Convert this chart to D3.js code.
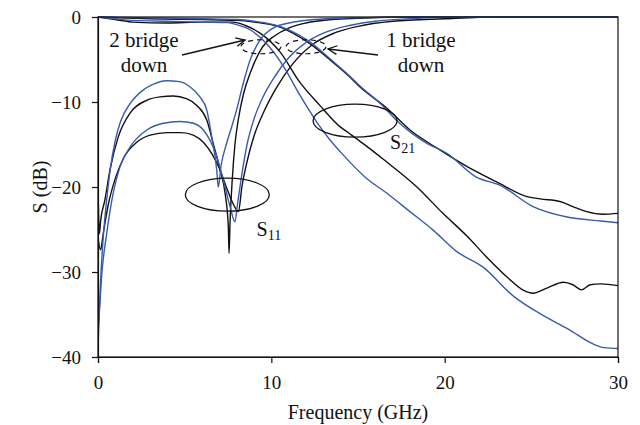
<!DOCTYPE html>
<html><head><meta charset="utf-8">
<script src="https://cdn.jsdelivr.net/npm/d3@7"></script>
<style>
html,body{margin:0;padding:0;background:#fff;}
svg text{font-family:"Liberation Serif","Times New Roman",serif;fill:#111;}
</style></head>
<body><svg id="chart" width="640" height="425"></svg>
<script>
// ---- data: [frequency GHz, S dB] ----
const xTicks = [0, 10, 20, 30];
const yTicks = [0, -10, -20, -30, -40];

const s21BlueLow = [[0,0],[1,-0.2],[2,-0.4],[4,-0.5],[6,-0.6],[7.5,-0.65],[8.0,-0.9],[8.77,-1.5],[9.7,-3.1],[10.7,-5.8],[11.65,-9.2],[12.6,-12.3],[13.4,-14.5],[14,-15.9],[15.5,-19],[16.65,-20.7],[18,-22.9],[19.35,-25.1],[20.7,-27.6],[22.2,-29.4],[24,-32.9],[25.5,-34.9],[27.2,-36.8],[28.5,-38.4],[29.2,-38.9],[30,-39]];
const s21BlackLow = [[0,0],[1,-0.3],[2,-0.6],[4,-0.7],[6,-0.6],[7.8,-0.6],[8.5,-1],[9.35,-1.9],[10.5,-4.1],[11.65,-7.7],[12.8,-10.4],[13.96,-12.9],[14.5,-13.7],[15.3,-14.9],[16.5,-16.8],[18.4,-20],[19.9,-23.1],[21.3,-25.8],[22.4,-28.2],[23.6,-30.6],[24.5,-32.1],[25.1,-32.5],[25.9,-31.9],[26.85,-31.2],[27.4,-31.5],[27.9,-32.1],[28.4,-31.5],[29,-31.4],[30,-31.6]];
const s21BlackUp = [[0,0],[3,-0.2],[6,-0.3],[8,-0.4],[9,-0.6],[10.5,-1.2],[11.5,-2.2],[12.2,-3.1],[13.6,-5.4],[14.5,-7.0],[15.1,-8.2],[16.65,-10.7],[18,-13.3],[19.7,-15.6],[21.3,-17.6],[23,-19.4],[24.7,-21.1],[25.5,-21.4],[26.65,-21.7],[27.4,-22.3],[28.2,-22.9],[29.15,-23.2],[30,-23.1]];
const s21BlueUp = [[0,0],[3,-0.1],[6,-0.2],[8,-0.3],[9,-0.5],[10.5,-1.1],[11.5,-2.0],[12.2,-2.9],[13.6,-5.3],[14.5,-6.9],[15.1,-8.1],[16.3,-10.2],[17.4,-12.5],[19,-14.9],[20.1,-16],[21.8,-18.8],[23.2,-19.8],[25.1,-22.3],[27,-23.5],[29,-24],[30,-24.2]];

const s11BlueA = [[0,-39],[0.05,-36],[0.15,-31],[0.3,-26],[0.5,-21.5],[0.7,-18],[1.0,-14.5],[1.3,-12.3],[1.85,-10.2],[2.6,-8.6],[3.2,-7.9],[3.96,-7.5],[4.7,-7.6],[5.3,-8.2],[5.88,-9.4],[6.27,-10.9],[6.56,-14.1],[6.85,-18],[6.94,-20],[7.1,-17.5],[7.4,-15],[7.7,-13],[8.0,-10.9],[8.38,-7.8],[8.77,-5.1],[9.35,-2.7],[10.1,-1.3],[11.1,-0.67],[12.2,-0.35],[14,-0.15],[16,-0.05],[20,0],[30,0]];
const s11BlackA = [[0,-20],[0.08,-25.5],[0.15,-24],[0.4,-21.5],[0.69,-18],[1.17,-14.1],[1.85,-11.3],[2.81,-9.8],[3.58,-9.4],[4.35,-9.3],[5.1,-9.6],[5.7,-10.4],[6.27,-12.1],[6.65,-14.9],[7.04,-18],[7.33,-20.7],[7.52,-24.7],[7.56,-27.8],[7.62,-24],[7.75,-19],[7.9,-15],[8.1,-12],[8.4,-9],[8.8,-6.5],[9.5,-3.5],[10.2,-2.2],[11,-1.3],[12,-0.7],[13.5,-0.3],[15,-0.15],[18,0],[30,0]];
const s11BlueB = [[0,-37],[0.1,-34],[0.21,-30.5],[0.5,-25.5],[0.88,-20.7],[1.27,-17.6],[1.85,-15.3],[2.81,-13.3],[3.77,-12.5],[4.73,-12.3],[5.5,-12.5],[6.08,-13.3],[6.46,-14.5],[6.85,-16.4],[7.23,-19.2],[7.62,-22.3],[7.9,-24.1],[8.05,-22],[8.3,-18.5],[8.6,-15],[9.0,-12],[9.5,-9.5],[10.2,-7],[11,-4.8],[12,-3],[13,-1.9],[14.5,-1],[16,-0.5],[18,-0.2],[20,0],[30,0]];
const s11BlackB = [[0,-26],[0.15,-27.4],[0.3,-25.5],[0.6,-22],[1.0,-19],[1.5,-16.5],[2.2,-14.8],[3.0,-13.9],[4.0,-13.6],[4.8,-13.6],[5.5,-13.9],[6.1,-14.8],[6.6,-16.2],[7.0,-17.8],[7.4,-20],[7.8,-22],[8.1,-22.9],[8.3,-20],[8.6,-17],[9.0,-14],[9.6,-11],[10.3,-8.3],[11.2,-5.6],[12.4,-3.2],[13.5,-2],[15,-1.1],[17,-0.5],[20,-0.2],[23,0],[30,0]];

const blackSeries = [s21BlackLow, s21BlackUp, s11BlackA, s11BlackB];
const blueSeries = [s21BlueLow, s21BlueUp, s11BlueA, s11BlueB];

// ---- layout ----
const svg = d3.select("#chart");
const m = {left: 98, right: 618, top: 17, bottom: 357};
const x = d3.scaleLinear().domain([0, 30]).range([m.left, m.right]);
const y = d3.scaleLinear().domain([-40, 0]).range([m.bottom, m.top]);
const BLUE = "#3a5aae";

svg.append("defs").append("clipPath").attr("id","clip")
  .append("rect").attr("x", m.left).attr("y", m.top - 2).attr("width", m.right - m.left).attr("height", m.bottom - m.top + 2);

const line = d3.line().x(d => x(d[0])).y(d => y(d[1])).curve(d3.curveMonotoneX);
const g = svg.append("g").attr("clip-path", "url(#clip)");
blackSeries.forEach(s => g.append("path").attr("d", line(s)).attr("fill","none").attr("stroke","#111").attr("stroke-width",1.4));
blueSeries.forEach(s => g.append("path").attr("d", line(s)).attr("fill","none").attr("stroke",BLUE).attr("stroke-width",1.4));

// frame
svg.append("rect").attr("x", m.left).attr("y", m.top).attr("width", m.right - m.left).attr("height", m.bottom - m.top)
  .attr("fill","none").attr("stroke","#111").attr("stroke-width",1.2);

// axes
const fmt = d => d < 0 ? "\u2212" + Math.abs(d) : String(d);
const xAxis = svg.append("g").attr("transform", `translate(0,${m.bottom})`)
  .call(d3.axisBottom(x).tickValues(xTicks).tickSize(6).tickPadding(13).tickFormat(fmt));
const yAxis = svg.append("g").attr("transform", `translate(${m.left},0)`)
  .call(d3.axisLeft(y).tickValues(yTicks).tickSize(6).tickPadding(11).tickFormat(fmt));
[xAxis, yAxis].forEach(a => {
  a.select(".domain").attr("stroke","#111").attr("stroke-width",1.2);
  a.selectAll(".tick line").attr("stroke","#111").attr("stroke-width",1.2);
  a.selectAll("text").attr("font-size",19).attr("font-family","Liberation Serif, serif").attr("fill","#111");
});

svg.append("text").attr("x", (m.left + m.right) / 2).attr("y", 419).attr("text-anchor","middle")
  .attr("font-size",20).text("Frequency (GHz)");
svg.append("text").attr("transform", `translate(47,${(m.top + m.bottom) / 2}) rotate(-90)`).attr("text-anchor","middle")
  .attr("font-size",20).text("S (dB)");

// annotations
const ellipses = [{f: 14.83, s: -12.2}, {f: 7.46, s: -20.9}];
ellipses.forEach(e => svg.append("ellipse").attr("cx", x(e.f)).attr("cy", y(e.s)).attr("rx", 42).attr("ry", 16.5)
  .attr("fill","none").attr("stroke","#111").attr("stroke-width",1.3));
const dashed = [{f: 9.4, s: -3.5}, {f: 12.0, s: -3.5}];
dashed.forEach(e => svg.append("ellipse").attr("cx", x(e.f)).attr("cy", y(e.s)).attr("rx", 20).attr("ry", 7)
  .attr("fill","none").attr("stroke","#111").attr("stroke-width",1.2).attr("stroke-dasharray","5,4"));

function sLabel(xp, yp, sub) {
  const t = svg.append("text").attr("x", xp).attr("y", yp).attr("font-size", 20);
  t.append("tspan").text("S");
  t.append("tspan").attr("font-size", 14).attr("dy", 4).text(sub);
}
sLabel(x(9.15), y(-25.8), "11");
sLabel(x(16.85), y(-15.5), "21");

function twoLine(cx, y1, a, b) {
  svg.append("text").attr("x", cx).attr("y", y1).attr("text-anchor","middle").attr("font-size",21).text(a);
  svg.append("text").attr("x", cx).attr("y", y1 + 25).attr("text-anchor","middle").attr("font-size",21).text(b);
}
twoLine(144, 47, "2 bridge", "down");
twoLine(421, 47, "1 bridge", "down");

function arrow(x1, y1, x2, y2) {
  svg.append("line").attr("x1", x1).attr("y1", y1).attr("x2", x2).attr("y2", y2).attr("stroke","#111").attr("stroke-width",1.3);
  const ang = Math.atan2(y2 - y1, x2 - x1), L = 10, w = 0.45;
  const p = d3.path();
  p.moveTo(x2 - L * Math.cos(ang - w), y2 - L * Math.sin(ang - w));
  p.lineTo(x2, y2);
  p.lineTo(x2 - L * Math.cos(ang + w), y2 - L * Math.sin(ang + w));
  svg.append("path").attr("d", p.toString()).attr("fill","none").attr("stroke","#111").attr("stroke-width",1.3);
}
arrow(182, 55, 245, 40);
arrow(378, 55, 328, 49);
</script></body></html>
